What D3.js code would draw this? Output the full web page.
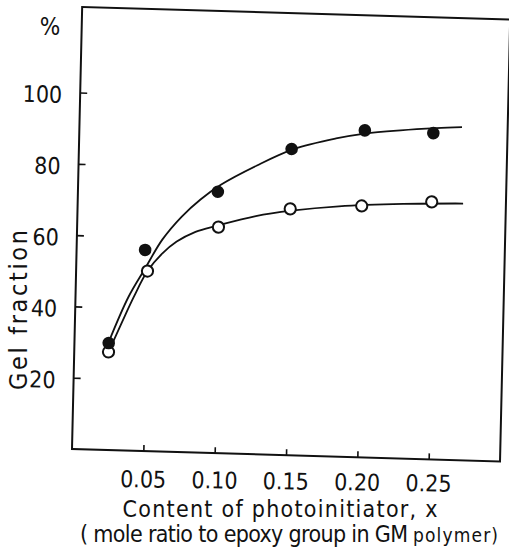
<!DOCTYPE html>
<html>
<head>
<meta charset="utf-8">
<script src="https://cdn.jsdelivr.net/npm/d3@7"></script>
<style>
  body { margin: 0; background: #fff; }
  svg { display: block; }
  text { font-family: "Liberation Sans Narrow", "DejaVu Sans Condensed", sans-serif; fill: #111; }
</style>
</head>
<body>
<div id="chart"></div>
<script>
// tick values
var xTicks = [0.05, 0.10, 0.15, 0.20, 0.25];
var xTickLabels = ["0.05", "0.10", "0.15", "0.20", "0.25"];
var yTicks = [20, 40, 60, 80, 100];

// measured points
var filledX = [0.024, 0.048, 0.098, 0.149, 0.200, 0.248];
var filledY = [30.0, 56.4, 73.3, 85.9, 91.7, 91.5];
var openX = [0.024, 0.050, 0.099, 0.149, 0.199, 0.248];
var openY = [27.5, 50.5, 63.4, 69.1, 70.5, 72.2];

// fitted curves as drawn
var filledCurveX = [0.024, 0.037, 0.048, 0.060, 0.073, 0.086, 0.100, 0.125, 0.150, 0.180, 0.200, 0.225, 0.250, 0.268];
var filledCurveY = [30.3, 43.0, 51.0, 59.5, 66.0, 71.0, 75.3, 81.0, 85.8, 89.2, 90.8, 92.0, 92.9, 93.4];
var openCurveX = [0.024, 0.033, 0.041, 0.050, 0.060, 0.070, 0.083, 0.098, 0.125, 0.150, 0.183, 0.228, 0.270];
var openCurveY = [27.5, 36.0, 43.3, 50.5, 55.5, 59.0, 61.9, 63.8, 66.8, 68.6, 70.2, 71.4, 72.0];

var width = 509, height = 554;

var svg = d3.select("#chart")
	.append("svg")
	.attr("width", width)
	.attr("height", height);

var x = d3.scaleLinear().domain([0, 0.3]).range([0, 428]);
var y = d3.scaleLinear().domain([0, 124]).range([0, -442]);

// the scanned figure is slightly skewed
var plot = svg.append("g")
	.attr("transform", "matrix(1, 0.029, -0.023, 1, 72, 449)");

plot.append("rect")
	.attr("x", x(0))
	.attr("y", y(124))
	.attr("width", x(0.3) - x(0))
	.attr("height", y(0) - y(124))
	.attr("fill", "none")
	.attr("stroke", "#111")
	.attr("stroke-width", 2);

// x ticks (inward, no labels)
var xAxis = plot.append("g")
	.call(d3.axisTop(x).tickValues(xTicks).tickSize(6).tickFormat(""));
xAxis.select(".domain").remove();
xAxis.selectAll("line").attr("stroke", "#111").attr("stroke-width", 1.6);

// y ticks with labels
var yAxis = plot.append("g")
	.call(d3.axisLeft(y).tickValues(yTicks).tickSizeInner(-7).tickSizeOuter(0).tickPadding(18));
yAxis.select(".domain").remove();
yAxis.selectAll("line").attr("stroke", "#111").attr("stroke-width", 1.6);
yAxis.selectAll("text")
	.attr("dy", "0.45em")
	.style("font-size", "23px")
	.style("fill", "#111")
	.style("font-family", "Liberation Sans Narrow, DejaVu Sans Condensed, sans-serif");

// x tick labels, the text runs a little flatter than the frame
var labelGroup = svg.append("g")
	.attr("transform", "matrix(1, 0.014, -0.023, 1, 72, 449)");
var xLabels = labelGroup.append("g")
	.call(d3.axisBottom(x).tickValues(xTicks).tickSize(0).tickPadding(21)
		.tickFormat(function(d, i) { return xTickLabels[i]; }));
xLabels.select(".domain").remove();
xLabels.selectAll("text")
	.style("font-size", "23px")
	.style("fill", "#111")
	.style("font-family", "Liberation Sans Narrow, DejaVu Sans Condensed, sans-serif");

var line = d3.line()
	.x(function(d) { return x(d[0]); })
	.y(function(d) { return y(d[1]); })
	.curve(d3.curveCatmullRom.alpha(0.5));

plot.append("path")
	.datum(d3.zip(filledCurveX, filledCurveY))
	.attr("d", line)
	.attr("fill", "none")
	.attr("stroke", "#111")
	.attr("stroke-width", 1.8);

plot.append("path")
	.datum(d3.zip(openCurveX, openCurveY))
	.attr("d", line)
	.attr("fill", "none")
	.attr("stroke", "#111")
	.attr("stroke-width", 1.8);

plot.selectAll("circle.open")
	.data(d3.zip(openX, openY))
	.enter().append("circle")
	.attr("class", "open")
	.attr("cx", function(d) { return x(d[0]); })
	.attr("cy", function(d) { return y(d[1]); })
	.attr("r", 5.6)
	.attr("fill", "#fff")
	.attr("stroke", "#111")
	.attr("stroke-width", 2);

plot.selectAll("circle.filled")
	.data(d3.zip(filledX, filledY))
	.enter().append("circle")
	.attr("class", "filled")
	.attr("cx", function(d) { return x(d[0]); })
	.attr("cy", function(d) { return y(d[1]); })
	.attr("r", 6.3)
	.attr("fill", "#111");

// unit
svg.append("text")
	.attr("x", 50)
	.attr("y", 35)
	.attr("text-anchor", "middle")
	.style("font-size", "24px")
	.text("%");

// y title
svg.append("text")
	.attr("transform", "translate(27, 310) rotate(-90)")
	.attr("text-anchor", "middle")
	.attr("textLength", 160)
	.attr("lengthAdjust", "spacing")
	.style("font-size", "25px")
	.text("Gel fraction");

// x titles
svg.append("text")
	.attr("x", 280)
	.attr("y", 517)
	.attr("text-anchor", "middle")
	.attr("textLength", 315)
	.attr("lengthAdjust", "spacing")
	.style("font-size", "23px")
	.text("Content of photoinitiator, x");

var sub = svg.append("text")
	.attr("x", 80)
	.attr("y", 542)
	.style("font-size", "23px");
sub.append("tspan")
	.attr("textLength", 328)
	.attr("lengthAdjust", "spacing")
	.text("( mole ratio to epoxy group in GM");
sub.append("tspan")
	.attr("x", 413)
	.attr("textLength", 85)
	.attr("lengthAdjust", "spacing")
	.style("font-size", "19px")
	.text("polymer)");
</script>
</body>
</html>
